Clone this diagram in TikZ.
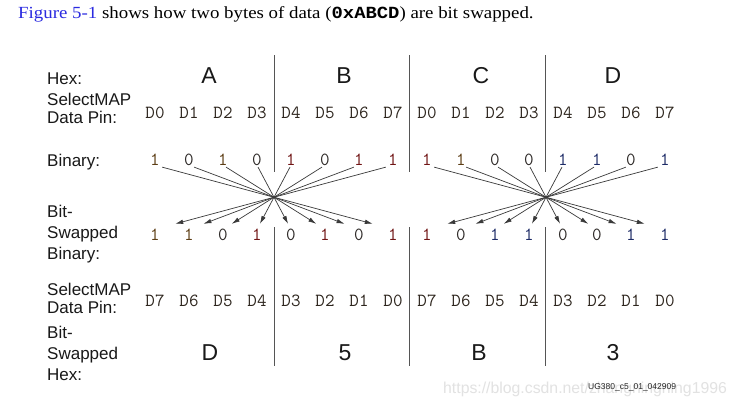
\documentclass[tikz,border=0pt]{standalone}
\usepackage{fontspec}
\setmainfont{Liberation Serif}
\newfontfamily\labfont{Liberation Sans}
\newfontfamily\dmono{Liberation Mono}
\usetikzlibrary{arrows.meta,calc}
\definecolor{figblue}{HTML}{2A2AE0}
\definecolor{cbr}{HTML}{5C3D14}
\definecolor{cdr}{HTML}{701414}
\definecolor{cnv}{HTML}{1C2A66}
\definecolor{cdk}{HTML}{2E2A28}
\definecolor{pinc}{HTML}{2E261E}
\definecolor{linec}{HTML}{3A3A3A}
\definecolor{sepc}{HTML}{555555}
\definecolor{wmc}{HTML}{E2E2E2}
\begin{document}
\begin{tikzpicture}[x=1pt,y=-1pt,
  rowlab/.style={font=\labfont\fontsize{17}{18}\selectfont, anchor=base west, align=left, inner sep=0pt, text=black!90},
  rowlabw/.style={font=\labfont\fontsize{17}{21}\selectfont, anchor=base west, align=left, inner sep=0pt, text=black!90},
  hexl/.style={font=\labfont\fontsize{23}{23}\selectfont, anchor=base, inner sep=0pt, text=black!90},
  pin/.style={font=\ttfamily\fontsize{18.5}{18.5}\selectfont\addfontfeature{FakeBold=0.35}, anchor=base, inner sep=0pt, text=pinc},
  bit/.style={font=\ttfamily\fontsize{18.5}{18.5}\selectfont\addfontfeature{FakeBold=0.35}, anchor=base, inner sep=0pt, text height=10.5pt, text depth=0pt},
  arr/.style={draw=linec, line width=0.7pt, -{Latex[length=8pt,width=4.5pt]}},
  sep/.style={draw=sepc, line width=0.9pt}
]
\useasboundingbox[fill=white] (0,0) rectangle (739,407);

% header
\node[anchor=base west, inner sep=0pt, font=\fontsize{17}{19}\selectfont] (hdr) at (18,18.5)
  {\scalebox{1.11}[1]{\textcolor{figblue}{Figure 5-1} shows how two bytes of data ({\dmono\bfseries 0xABCD}) are bit swapped.}};

% separators
\foreach \x in {274,409.5,545.5} {
  \draw[sep] (\x,55) -- (\x,172);
  \draw[sep] (\x,227) -- (\x,366);
}

% row labels (base anchor = baseline of last line)
\node[rowlab] (hexlab) at (47,84) {Hex:};
\node[rowlab] (pinlab1) at (47,123) {SelectMAP\\Data Pin:};
\node[rowlab] (binlab) at (47,166) {Binary:};
\node[rowlabw] (swblab) at (47,259) {Bit-\\Swapped\\Binary:};
\node[rowlab] (pinlab2) at (47,313) {SelectMAP\\Data Pin:};
\node[rowlabw] (swhlab) at (47,380) {Bit-\\Swapped\\Hex:};

% hex letters
\node[hexl] (hA) at (209,83) {A};
\node[hexl] (hB) at (344,83) {B};
\node[hexl] (hC) at (481,83) {C};
\node[hexl] (hD) at (613,83) {D};

\node[hexl] (sD) at (210,360) {D};
\node[hexl] (s5) at (345,360) {5};
\node[hexl] (sB) at (479,360) {B};
\node[hexl] (s3) at (613,360) {3};

% pin rows
\foreach \i/\t in {0/D0,1/D1,2/D2,3/D3,4/D4,5/D5,6/D6,7/D7,8/D0,9/D1,10/D2,11/D3,12/D4,13/D5,14/D6,15/D7}
  \node[pin] (pa\i) at ({155+34*\i},118.5) {\t};
\foreach \i/\t in {0/D7,1/D6,2/D5,3/D4,4/D3,5/D2,6/D1,7/D0,8/D7,9/D6,10/D5,11/D4,12/D3,13/D2,14/D1,15/D0}
  \node[pin] (pb\i) at ({155+34*\i},306) {\t};

% binary row
\foreach \i/\v/\c in {0/1/cbr,1/0/cdk,2/1/cbr,3/0/cdk,4/1/cdr,5/0/cdk,6/1/cdr,7/1/cdr,
                      8/1/cdr,9/1/cbr,10/0/cdk,11/0/cdk,12/1/cnv,13/1/cnv,14/0/cdk,15/1/cnv}
  \node[bit,text=\c] (b\i) at ({155+34*\i},165) {\v};

% swapped binary row
\foreach \i/\v/\c in {0/1/cbr,1/1/cbr,2/0/cdk,3/1/cdr,4/0/cdk,5/1/cdr,6/0/cdk,7/1/cdr,
                      8/1/cdr,9/0/cdk,10/1/cnv,11/1/cnv,12/0/cdk,13/0/cdk,14/1/cnv,15/1/cnv}
  \node[bit,text=\c] (s\i) at ({155+34*\i},240) {\v};

% fan arrows
\foreach \i/\j in {0/7,1/6,2/5,3/4,4/3,5/2,6/1,7/0,8/15,9/14,10/13,11/12,12/11,13/10,14/9,15/8}
  \draw[arr] ($(b\i.south)!0.03!(s\j.north)$) -- ($(b\i.south)!0.915!(s\j.north)$);

% watermark and figure id
\node[anchor=base west, inner sep=0pt, font=\labfont\fontsize{15.8}{15.8}\selectfont, text=wmc] (wm) at (443,393) {https://blog.csdn.net/zhangningning1996};
\node[anchor=base west, inner sep=0pt, font=\labfont\fontsize{8.5}{8.5}\selectfont, text=black!85] (ug) at (588,389.5) {UG380\_c5\_01\_042909};
\end{tikzpicture}
\end{document}
